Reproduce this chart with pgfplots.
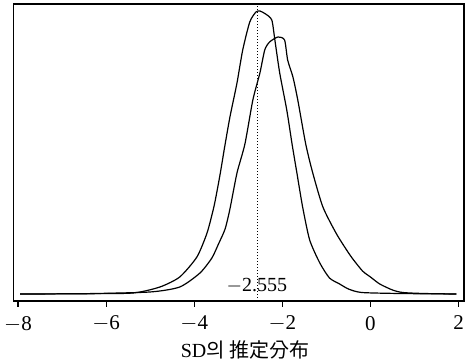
\documentclass[border=0pt]{standalone}
\usepackage{fontspec}
\setmainfont{Liberation Serif}
\newfontfamily\cjk{Noto Sans CJK KR}
\usepackage{pgfplots}
\pgfplotsset{compat=1.18}
\begin{document}
\begin{tikzpicture}
\begin{axis}[
  at={(0,0)}, anchor=south west,
  scale only axis,
  width=225.4pt, height=148.5pt,
  xmin=-8.107, xmax=2.125,
  ymin=-7, ymax=290,
  axis line style={line width=0.7pt},
  xtick={-8,-6,-4,-2,0,2},
  xticklabels={$-$8,$-$6,$-$4,$-$2,0,2},
  xtick pos=bottom,
  tick align=outside,
  major tick length=3pt,
  ytick=\empty,
  tick style={line width=0.6pt, black},
  xticklabel style={font=\fontsize{10.5}{12}\selectfont, yshift=-1pt},
  xlabel={SD{\cjk 의\ 推定分布}},
  xlabel style={at={(axis description cs:0.514,0)}, anchor=north, yshift=-16.5pt, font=\fontsize{10}{12}\selectfont},
  clip=false,
]
\addplot[black, line width=0.6pt, smooth, tension=0.4] coordinates {
(-7.95,0) (-6.5,0.3) (-5.39,1) (-4.78,7) (-4.33,17) (-3.94,37) (-3.71,61) (-3.55,88)
(-3.42,118) (-3.31,147) (-3.19,177) (-3.03,211) (-2.90,244) (-2.74,272) (-2.60,282) (-2.51,283)
(-2.38,280) (-2.24,274) (-2.17,254) (-2.06,221) (-1.90,184) (-1.78,150) (-1.67,121)
(-1.54,87) (-1.38,54) (-1.15,31) (-0.93,16) (-0.70,10) (-0.50,5) (-0.20,1.5) (0.66,0.5) (1.95,0)
};
\addplot[black, line width=0.6pt, smooth, tension=0.4] coordinates {
(-7.95,0) (-6.5,0.3) (-5.01,2) (-4.33,7) (-3.87,21) (-3.60,36) (-3.45,50) (-3.30,65) (-3.19,85)
(-3.03,121) (-2.85,150) (-2.67,194) (-2.51,221) (-2.40,244) (-2.29,252) (-2.10,257)
(-1.95,254) (-1.88,234) (-1.76,217) (-1.65,194) (-1.47,150) (-1.31,121) (-1.08,87)
(-0.77,60) (-0.45,38) (-0.18,23) (0.0,17) (0.21,10) (0.5,4) (0.73,1.5) (1.2,0.5) (1.95,0)
};
\addplot[black, line width=0.5pt, densely dotted] coordinates {(-2.555,-7) (-2.555,290)};
\node[font=\fontsize{10}{12}\selectfont, inner sep=0pt] at (axis cs:-2.58,8) {$-$2.555};
\end{axis}
\pgfresetboundingbox
\path (-6.65pt,-31.5pt) rectangle (229.35pt,150.5pt);
\end{tikzpicture}
\end{document}
